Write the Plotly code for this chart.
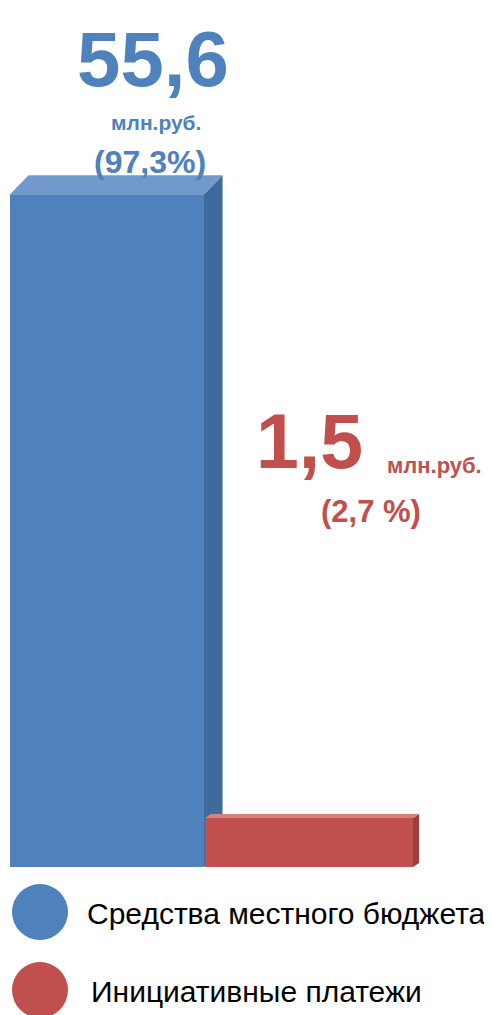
import plotly.graph_objects as go

# ---- data ----
categories = ["Средства местного бюджета", "Инициативные платежи"]
values = [55.6, 1.5]
value_labels = ["55,6", "1,5"]
unit_labels = ["млн.руб.", "млн.руб."]
share_labels = ["(97,3%)", "(2,7 %)"]

# ---- styling / layout constants ----
front_colors = ["#4F81BD", "#C0504D"]
top_colors = ["#7299CC", "#D7807D"]
side_colors = ["#3F6A9C", "#9C3E3B"]
bar_pos = [0, 1]
bar_widths = [0.96, 1.03]
depth_x = [0.092, 0.03]
depth_y = [1.65, 0.35]
AXIS_FLOOR = -2.75
Y_RANGE = [AXIS_FLOOR, 71.75]
X_RANGE = [-0.4901, 1.906]
FONT = "Liberation Sans, Arial, sans-serif"
FIG_W, FIG_H = 484, 1007   # page body adds an 8px margin

fig = go.Figure()

axis_ids = [("x", "y"), ("x2", "y2")]
for i, (xa, ya) in enumerate(axis_ids):
    xc, w, v = bar_pos[i], bar_widths[i], values[i]
    dx, dy = depth_x[i], depth_y[i]
    left, right = xc - w / 2, xc + w / 2
    # front face
    fig.add_trace(go.Bar(
        x=[xc], y=[v - AXIS_FLOOR], base=AXIS_FLOOR, width=[w],
        marker=dict(color=front_colors[i], line=dict(width=0)),
        xaxis=xa, yaxis=ya, showlegend=False, hoverinfo="skip",
    ))
    # side face
    fig.add_trace(go.Scatter(
        x=[right, right, right + dx, right + dx, right],
        y=[AXIS_FLOOR, v, v + dy, AXIS_FLOOR + dy, AXIS_FLOOR],
        fill="toself", fillcolor=side_colors[i], mode="lines",
        line=dict(width=0, color=side_colors[i]),
        xaxis=xa, yaxis=ya, showlegend=False, hoverinfo="skip",
    ))
    # top face
    fig.add_trace(go.Scatter(
        x=[left, right, right + dx, left + dx, left],
        y=[v, v, v + dy, v + dy, v],
        fill="toself", fillcolor=top_colors[i], mode="lines",
        line=dict(width=0, color=top_colors[i]),
        xaxis=xa, yaxis=ya, showlegend=False, hoverinfo="skip",
    ))

# legend drawn as a small auxiliary subplot
fig.add_trace(go.Scatter(
    x=[0, 0], y=[0, 1], mode="markers",
    marker=dict(size=56, color=front_colors),
    xaxis="x3", yaxis="y3", showlegend=False, hoverinfo="skip",
))

annotations = []
for k, name in enumerate(categories):
    annotations.append(dict(
        x=0, y=k, xref="x3", yref="y3", text=name, showarrow=False,
        xanchor="left", yanchor="middle", xshift=45 + 4 * k, yshift=-1,
        font=dict(family=FONT, size=30, color="#000000"),
    ))

# value labels
label_specs = [
    # (bar index, text, size, xshift, yshift)
    (0, value_labels[0], 78, 46, 135),
    (0, unit_labels[0], 21, 49, 72),
    (0, share_labels[0], 32, 43, 32),
    (1, value_labels[1], 77, 1, 377),
    (1, unit_labels[1], 22, 126, 353),
    (1, share_labels[1], 31, 62, 307),
]
for i, txt, size, xs, ys in label_specs:
    annotations.append(dict(
        x=bar_pos[i], y=values[i], xref="x", yref="y",
        text=txt, showarrow=False, xanchor="center", yanchor="middle",
        xshift=xs, yshift=ys,
        font=dict(family=FONT, size=size, color=front_colors[i], weight="bold"),
    ))

hidden = dict(visible=False, showgrid=False, zeroline=False, fixedrange=True)
main_dom = [148 / FIG_H, 1]
fig.update_layout(
    width=FIG_W, height=FIG_H,
    margin=dict(l=0, r=0, t=0, b=0),
    paper_bgcolor="white", plot_bgcolor="rgba(0,0,0,0)",
    showlegend=False,
    barmode="overlay",
    xaxis=dict(range=X_RANGE, domain=[0, 1], **hidden),
    yaxis=dict(range=Y_RANGE, domain=main_dom, **hidden),
    xaxis2=dict(range=X_RANGE, overlaying="x", **hidden),
    yaxis2=dict(range=Y_RANGE, overlaying="y", **hidden),
    xaxis3=dict(range=[-32, 452], domain=[0, 1], anchor="y3", **hidden),
    yaxis3=dict(range=[1.32, -0.5], domain=[0, 142 / FIG_H], anchor="x3", **hidden),
    annotations=annotations,
)

fig.write_html("out.html")
